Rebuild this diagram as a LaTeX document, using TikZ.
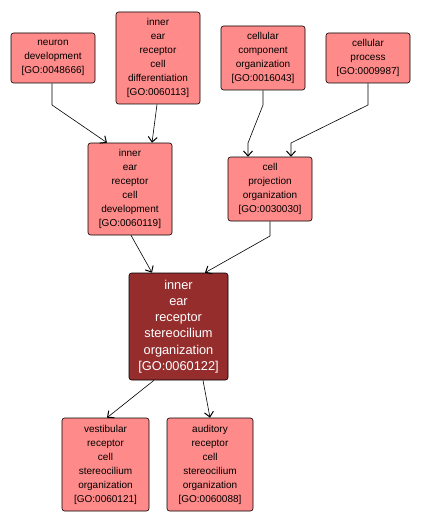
\documentclass[tikz,border=0pt]{standalone}
\usepackage{fontspec}
\setmainfont{Liberation Sans}
\usetikzlibrary{arrows.meta}
\definecolor{gofill}{HTML}{FF8A8A}
\definecolor{gocentral}{HTML}{962D2D}
\tikzset{
  term/.style={draw=black, fill=gofill, rounded corners=2.5pt, line width=0.6pt,
    align=center, font=\fontsize{10}{14}\selectfont, inner sep=0pt},
  central/.style={term, fill=gocentral, text=white, font=\fontsize{12.8}{16.3}\selectfont},
  edge/.style={draw=black, line width=0.6pt, -{Straight Barb[length=5pt,width=9pt,line width=1pt]}}
}
\begin{document}
\begin{tikzpicture}[x=1pt,y=-1pt]
\useasboundingbox (0,0) rectangle (421,524);
\node[term, minimum width=84pt, minimum height=50pt] (nd) at (53,58) {neuron\\development\\{[GO:0048666]}};
\node[term, minimum width=84pt, minimum height=92pt] (diff) at (158,58) {inner\\ear\\receptor\\cell\\differentiation\\{[GO:0060113]}};
\node[term, minimum width=84pt, minimum height=64pt] (cco) at (263,58) {cellular\\component\\organization\\{[GO:0016043]}};
\node[term, minimum width=84pt, minimum height=50pt] (cp) at (368,58) {cellular\\process\\{[GO:0009987]}};
\node[term, minimum width=84pt, minimum height=92pt] (dev) at (130,189) {inner\\ear\\receptor\\cell\\development\\{[GO:0060119]}};
\node[term, minimum width=84pt, minimum height=64pt] (cpo) at (270,189) {cell\\projection\\organization\\{[GO:0030030]}};
\node[central, minimum width=99pt, minimum height=107pt] (ster) at (178.5,326.5) {inner\\ear\\receptor\\stereocilium\\organization\\{[GO:0060122]}};
\node[term, minimum width=87pt, minimum height=93pt] (vest) at (105.5,464.5) {vestibular\\receptor\\cell\\stereocilium\\organization\\{[GO:0060121]}};
\node[term, minimum width=86pt, minimum height=93pt] (aud) at (210,464.5) {auditory\\receptor\\cell\\stereocilium\\organization\\{[GO:0060088]}};
\coordinate (a1) at (52,105);
\coordinate (a2) at (263,105);
\coordinate (a3) at (248,143);
\coordinate (a4) at (368,105);
\coordinate (a5) at (291,143);
\coordinate (a6) at (270,236);
\draw[edge] (nd.south -| a1) -- (a1) -- (dev.north -| 107,0);
\draw[edge] (diff.south -| 157,0) -- (dev.north -| 152,0);
\draw[edge] (cco.south) -- (a2) -- (a3) -- (cpo.north -| a3);
\draw[edge] (cp.south) -- (a4) -- (a5) -- (cpo.north -| a5);
\draw[edge] (dev.south -| 131,0) -- (ster.north -| 152,0);
\draw[edge] (cpo.south) -- (a6) -- (ster.north -| 205,0);
\draw[edge] (ster.south -| 154,0) -- (vest.north -| 107,0);
\draw[edge] (ster.south -| 203,0) -- (aud.north);
\end{tikzpicture}
\end{document}
